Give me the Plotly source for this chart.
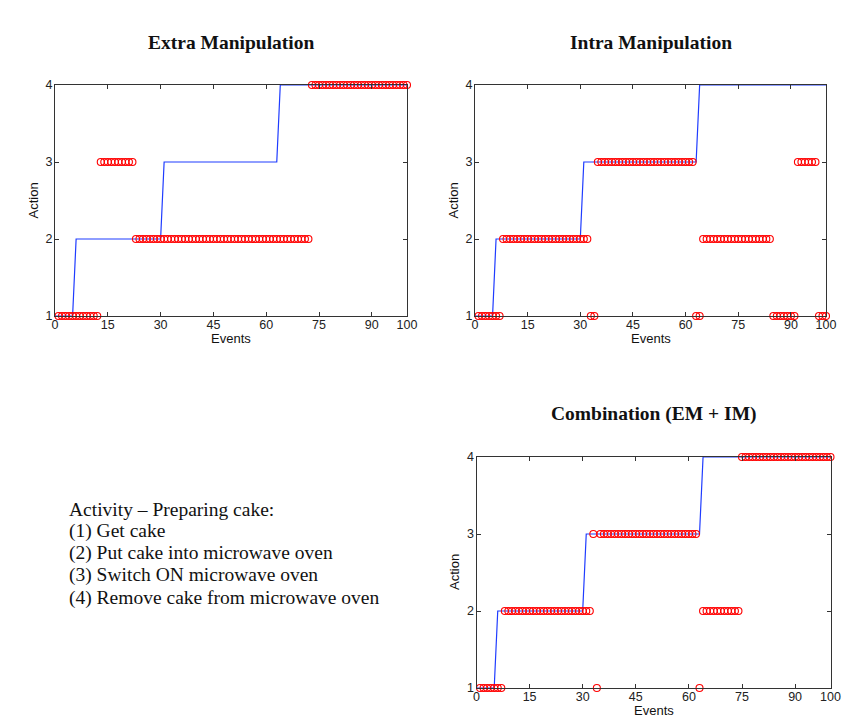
import plotly.graph_objects as go

# ---------------- data ----------------
events = list(range(1, 101))

extra_actions = ([1] * 12 + [3] * 10 + [2] * 50 + [4] * 28)
intra_actions = ([1] * 7 + [2] * 25 + [1] * 2 + [3] * 28 + [1] * 2 +
                 [2] * 20 + [1] * 7 + [3] * 6 + [1] * 3)
combo_actions = ([1] * 7 + [2] * 25 + [3] * 1 + [1] * 1 + [3] * 28 +
                 [1] * 1 + [2] * 11 + [4] * 26)

truth_events = list(range(0, 101))
truth_actions = [1] * 6 + [2] * 25 + [3] * 33 + [4] * 37

x_ticks = [0, 15, 30, 45, 60, 75, 90, 100]
y_ticks = [1, 2, 3, 4]

titles = ["Extra Manipulation", "Intra Manipulation", "Combination (EM + IM)"]
legend_lines = [
    "Activity \u2013 Preparing cake:",
    "(1) Get cake",
    "(2) Put cake into microwave oven",
    "(3) Switch ON microwave oven",
    "(4) Remove cake from microwave oven",
]

# ---------------- layout ----------------
OFF = 8                      # page body margin
W, H = 855 - OFF, 719 - OFF  # figure size


def px(x):
    return (x - OFF) / W


def py(y):
    return 1 - (y - OFF) / H


panels = [
    # (x0, x1, ytop, ybottom) in page pixels
    (55, 407, 85, 316),
    (475, 826, 85, 316),
    (476.5, 830.5, 457, 688),
]
series = [extra_actions, intra_actions, combo_actions]

fig = go.Figure()
sans = "Liberation Sans, Arial, sans-serif"
serif = "Liberation Serif, Times New Roman, serif"
axis_font = dict(family=sans, size=12.5, color="#222")

for i, ((x0, x1, yt, yb), acts) in enumerate(zip(panels, series)):
    n = "" if i == 0 else str(i + 1)
    xa, ya = "x" + n, "y" + n
    fig.add_trace(go.Scatter(x=truth_events, y=truth_actions, mode="lines",
                             line=dict(color="#1f3cff", width=1.2),
                             xaxis=xa, yaxis=ya, showlegend=False))
    fig.add_trace(go.Scatter(x=events, y=acts, mode="markers",
                             marker=dict(symbol="circle-open", size=7,
                                         color="#ff0000", line=dict(width=1.1)),
                             xaxis=xa, yaxis=ya, showlegend=False, cliponaxis=False))
    common = dict(showgrid=False, zeroline=False, showline=True, mirror="ticks",
                  linecolor="#333", linewidth=1, ticks="inside", ticklen=4,
                  tickcolor="#333", tickfont=axis_font, automargin=False)
    fig.layout["xaxis" + n] = dict(
        domain=[px(x0), px(x1)], range=[0, 100], tickvals=x_ticks,
        anchor=ya, ticklabelstandoff=-3, **common)
    fig.layout["yaxis" + n] = dict(
        domain=[py(yb), py(yt)], range=[1, 4], tickvals=y_ticks,
        anchor=xa, ticklabelstandoff=-1, **common)
    # axis titles
    fig.add_annotation(text="Events", xref="paper", yref="paper",
                       x=px((x0 + x1) / 2), y=py(yb + 22), xanchor="center",
                       yanchor="middle", showarrow=False,
                       font=dict(family=sans, size=13, color="#111"))
    fig.add_annotation(text="Action", xref="paper", yref="paper",
                       x=px(x0 - 22), y=py((yt + yb) / 2), xanchor="center",
                       yanchor="middle", showarrow=False, textangle=-90,
                       font=dict(family=sans, size=13, color="#111"))
    # panel title
    fig.add_annotation(text="<b>" + titles[i] + "</b>", xref="paper", yref="paper",
                       x=px((x0 + x1) / 2), y=py(yt - 43), xanchor="center",
                       yanchor="middle", showarrow=False,
                       font=dict(family=serif, size=19.5, color="#111"))

line_y = [509, 531, 553, 575, 598]
for txt, yy in zip(legend_lines, line_y):
    fig.add_annotation(text=txt, xref="paper", yref="paper", x=px(67), y=py(yy),
                       xanchor="left", yanchor="middle", showarrow=False,
                       font=dict(family=serif, size=19.5, color="#111"))

fig.update_layout(width=W, height=H, margin=dict(l=0, r=0, t=0, b=0),
                  paper_bgcolor="white", plot_bgcolor="white")

fig.write_html("out.html")
